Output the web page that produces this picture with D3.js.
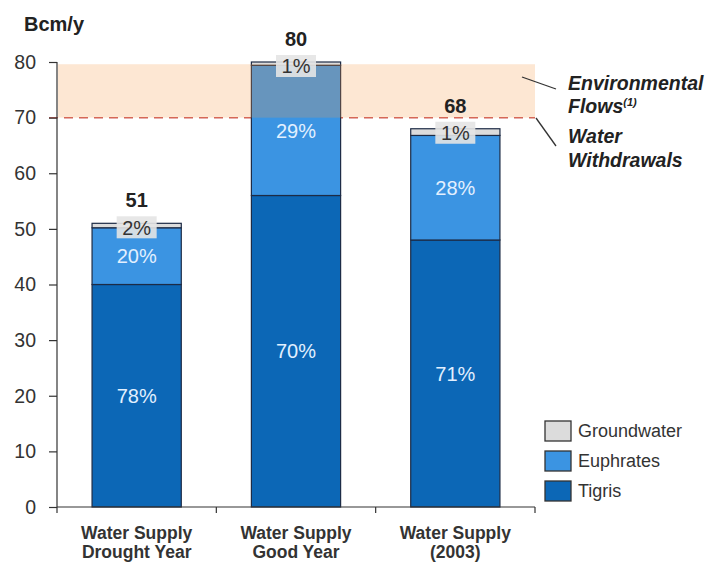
<!DOCTYPE html>
<html>
<head>
<meta charset="utf-8">
<script src="https://cdn.jsdelivr.net/npm/d3@7"></script>
<style>
  html, body { margin: 0; padding: 0; background: #fff; }
  svg { display: block; font-family: "Liberation Sans", Arial, sans-serif; }
</style>
</head>
<body>
<svg id="chart" width="711" height="565"></svg>
<script>
const categories = ["Water Supply|Drought Year", "Water Supply|Good Year", "Water Supply|(2003)"];
const tigris = [40, 56, 48];
const euphrates = [10.2, 23.4, 18.8];
const groundwater = [0.8, 0.6, 1.2];
const totals = [51, 80, 68];
const tigrisPct = ["78%", "70%", "71%"];
const euphratesPct = ["20%", "29%", "28%"];
const groundwaterPct = ["2%", "1%", "1%"];
const yTicks = [0, 10, 20, 30, 40, 50, 60, 70, 80];
const withdrawals = 70;
const envFlowsTop = 79.6;
const seriesNames = ["Groundwater", "Euphrates", "Tigris"];

const colors = { Tigris: "#0c67b6", Euphrates: "#3b94e2", Groundwater: "#dcdcdc" };
const outline = "#1d2b45";

const svg = d3.select("#chart");
const x = d3.scaleBand().domain(categories).range([57, 535]).paddingInner(0.44).paddingOuter(0.22);
const y = d3.scaleLinear().domain([0, 80]).range([507, 62]);

const rows = categories.map((c, i) => ({ cat: c, Tigris: tigris[i], Euphrates: euphrates[i], Groundwater: groundwater[i] }));
const stack = d3.stack().keys(["Tigris", "Euphrates", "Groundwater"])(rows);

// dashed withdrawals line (behind bars)
svg.append("line")
  .attr("x1", 49).attr("x2", 535)
  .attr("y1", y(withdrawals)).attr("y2", y(withdrawals))
  .attr("stroke", "#d0605a").attr("stroke-width", 1.5)
  .attr("stroke-dasharray", "9,6");

// bars
stack.forEach(layer => {
  svg.append("g").selectAll("rect").data(layer).join("rect")
    .attr("x", d => x(d.data.cat))
    .attr("width", x.bandwidth())
    .attr("y", d => y(d[1]))
    .attr("height", d => y(d[0]) - y(d[1]))
    .attr("fill", colors[layer.key])
    .attr("stroke", outline).attr("stroke-width", 1.2);
});

// environmental flows band (translucent, over bars)
svg.append("rect")
  .attr("x", 58).attr("width", 535 - 58)
  .attr("y", y(envFlowsTop)).attr("height", y(withdrawals) - y(envFlowsTop))
  .attr("fill", "#f59a45").attr("opacity", 0.24);

// Y axis
const yAxis = d3.axisLeft(y).tickValues(yTicks).tickSize(8).tickSizeOuter(0).tickPadding(13);
const gy = svg.append("g").attr("transform", "translate(57,0)").call(yAxis);
gy.select(".domain").remove();
gy.append("line").attr("x1", 0).attr("x2", 0).attr("y1", y(80)).attr("y2", 513).attr("stroke", "#333").attr("stroke-width", 1.2);
gy.selectAll(".tick line").attr("stroke", "#333").attr("stroke-width", 1.2);
gy.selectAll(".tick text").attr("fill", "#333").style("font-size", "19.5px").style("font-family", "'Liberation Sans', Arial, sans-serif");

// X axis baseline and category ticks
svg.append("line").attr("x1", 57).attr("x2", 535).attr("y1", y(0)).attr("y2", y(0)).attr("stroke", "#333").attr("stroke-width", 1.2);
const step = x.step();
const bounds = d3.range(categories.length + 1).map(i => 57 + i * step);
svg.append("g").selectAll("line").data(bounds.slice(1)).join("line")
  .attr("x1", d => d).attr("x2", d => d).attr("y1", y(0)).attr("y2", y(0) + 6)
  .attr("stroke", "#333").attr("stroke-width", 1.2);

// category labels
categories.forEach(c => {
  const cx = x(c) + x.bandwidth() / 2;
  const t = svg.append("text").attr("x", cx).attr("y", 539)
    .attr("text-anchor", "middle").attr("fill", "#333").attr("font-weight", "bold").style("font-size", "17.5px");
  c.split("|").forEach((line, i) => {
    t.append("tspan").attr("x", cx).attr("dy", i === 0 ? 0 : 19).text(line);
  });
});

// Y unit
svg.append("text").attr("x", 24).attr("y", 31).attr("fill", "#222").attr("font-weight", "bold").style("font-size", "20px").text("Bcm/y");

// percent labels in bars
const pctLayers = { Tigris: tigrisPct, Euphrates: euphratesPct };
stack.forEach(layer => {
  if (layer.key === "Groundwater") return;
  layer.forEach((d, i) => {
    svg.append("text")
      .attr("x", x(d.data.cat) + x.bandwidth() / 2)
      .attr("y", y((d[0] + d[1]) / 2))
      .attr("dy", "0.36em")
      .attr("text-anchor", "middle")
      .attr("fill", "#e2f0ff")
      .style("font-size", "20px")
      .text(pctLayers[layer.key][i]);
  });
});

// groundwater labels with gray box
const gwLayer = stack[2];
gwLayer.forEach((d, i) => {
  const cx = x(d.data.cat) + x.bandwidth() / 2;
  const cy = y(d[1]) + 4;
  svg.append("rect").attr("x", cx - 20).attr("y", cy - 11).attr("width", 40).attr("height", 22)
    .attr("fill", "#e4e4e4").attr("opacity", 0.9);
  svg.append("text").attr("x", cx).attr("y", cy).attr("dy", "0.36em")
    .attr("text-anchor", "middle").attr("fill", "#333").style("font-size", "20px")
    .text(groundwaterPct[i]);
});

// totals
totals.forEach((t, i) => {
  svg.append("text").attr("x", x(categories[i]) + x.bandwidth() / 2).attr("y", y(t) - 16)
    .attr("text-anchor", "middle").attr("fill", "#222").attr("font-weight", "bold").style("font-size", "20px")
    .text(t);
});

// annotations
svg.append("line").attr("x1", 522).attr("y1", 77).attr("x2", 556).attr("y2", 89).attr("stroke", "#333").attr("stroke-width", 1.3);
svg.append("line").attr("x1", 536).attr("y1", 118).attr("x2", 556).attr("y2", 146).attr("stroke", "#333").attr("stroke-width", 1.3);
const ann = svg.append("g").attr("font-weight", "bold").attr("font-style", "italic").attr("fill", "#222").style("font-size", "19.5px");
ann.append("text").attr("x", 568).attr("y", 90).text("Environmental");
const fl = ann.append("text").attr("x", 568).attr("y", 113);
fl.append("tspan").text("Flows");
fl.append("tspan").attr("dy", -7).style("font-size", "11px").text("(1)");
ann.append("text").attr("x", 568).attr("y", 143).text("Water");
ann.append("text").attr("x", 568).attr("y", 167).text("Withdrawals");

// legend
const legend = svg.append("g");
seriesNames.forEach((s, i) => {
  const ly = 421 + i * 30;
  legend.append("rect").attr("x", 545).attr("y", ly).attr("width", 26).attr("height", 20)
    .attr("fill", colors[s]).attr("stroke", "#333").attr("stroke-width", 1.3);
  legend.append("text").attr("x", 578).attr("y", ly + 10).attr("dy", "0.36em")
    .attr("fill", "#333").style("font-size", "18px").text(s);
});
</script>
</body>
</html>
